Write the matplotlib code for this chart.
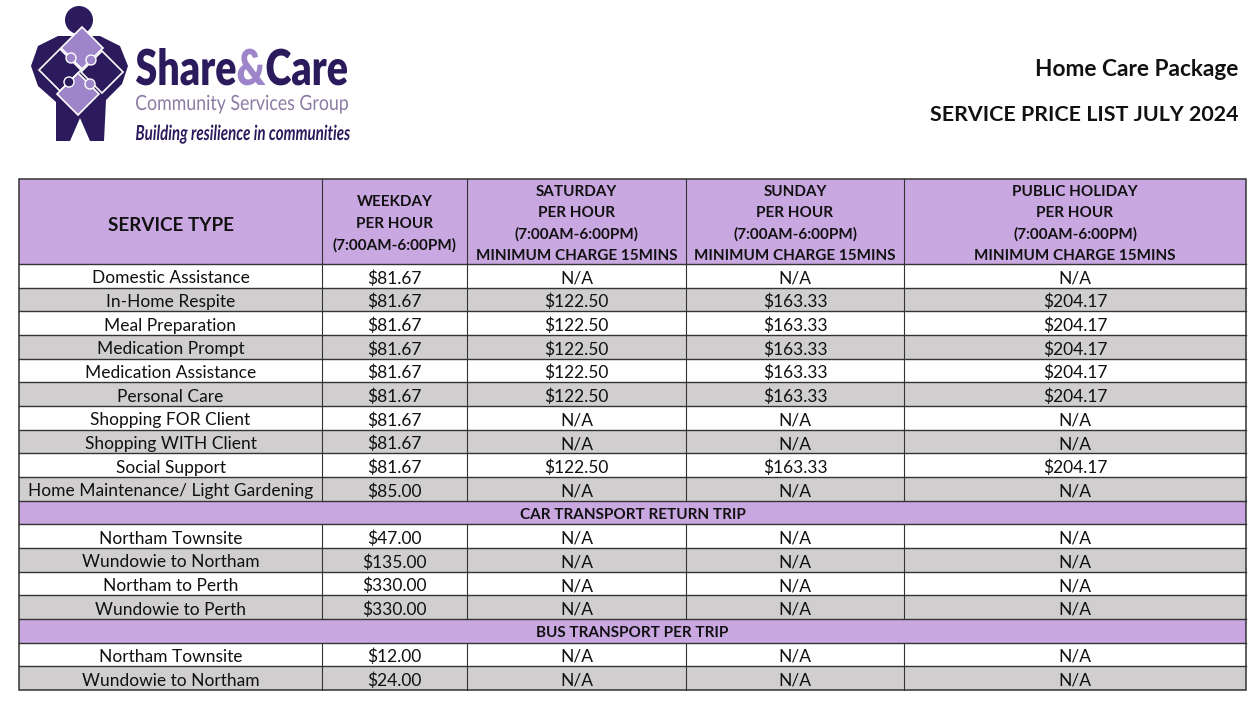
import matplotlib.pyplot as plt
from matplotlib.patches import Rectangle, Circle, Polygon, PathPatch
from matplotlib.textpath import TextPath
from matplotlib.font_manager import FontProperties
from matplotlib.transforms import Affine2D

plt.rcParams['font.family'] = ['Lato', 'DejaVu Sans']

# ---- table content ----
col_headers = ["SERVICE TYPE",
               "WEEKDAY\nPER HOUR\n(7:00AM-6:00PM)",
               "SATURDAY\nPER HOUR\n(7:00AM-6:00PM)\nMINIMUM CHARGE 15MINS",
               "SUNDAY\nPER HOUR\n(7:00AM-6:00PM)\nMINIMUM CHARGE 15MINS",
               "PUBLIC HOLIDAY\nPER HOUR\n(7:00AM-6:00PM)\nMINIMUM CHARGE 15MINS"]

service_rows = ["Domestic Assistance", "In-Home Respite", "Meal Preparation",
                "Medication Prompt", "Medication Assistance", "Personal Care",
                "Shopping FOR Client", "Shopping WITH Client", "Social Support",
                "Home Maintenance/ Light Gardening"]
service_weekday = [81.67, 81.67, 81.67, 81.67, 81.67, 81.67, 81.67, 81.67, 81.67, 85.00]
service_saturday = [None, 122.50, 122.50, 122.50, 122.50, 122.50, None, None, 122.50, None]
service_sunday = [None, 163.33, 163.33, 163.33, 163.33, 163.33, None, None, 163.33, None]
service_holiday = [None, 204.17, 204.17, 204.17, 204.17, 204.17, None, None, 204.17, None]

car_title = "CAR TRANSPORT RETURN TRIP"
car_rows = ["Northam Townsite", "Wundowie to Northam", "Northam to Perth", "Wundowie to Perth"]
car_weekday = [47.00, 135.00, 330.00, 330.00]

bus_title = "BUS TRANSPORT PER TRIP"
bus_rows = ["Northam Townsite", "Wundowie to Northam"]
bus_weekday = [12.00, 24.00]

# ---- styling ----
purple = '#C9A7E1'
grey = '#D0CECE'
line_col = '#333333'
navy = '#2B1A5C'
lilac = '#9E84C8'
txt_col = '#111111'
dy = 2.5  # nudge text down a little so it sits like the original


def fmt(v):
    return "N/A" if v is None else "${:,.2f}".format(v)


fig = plt.figure(figsize=(12.57, 7.04), dpi=100)
ax = fig.add_axes([0, 0, 1, 1])
ax.set_xlim(0, 1257)
ax.set_ylim(704, 0)
ax.axis('off')

col_edges = [19, 322, 467, 686, 904, 1246]
x_left, x_right = col_edges[0], col_edges[-1]
head_top, head_bot = 179, 264
row_h = (690 - head_bot) / 18

# header
ax.add_patch(Rectangle((x_left, head_top), x_right - x_left, head_bot - head_top,
                       fc=purple, ec='none'))
ax.text((col_edges[0] + col_edges[1]) / 2, 223 + dy, col_headers[0], ha='center', va='center',
        fontsize=13.6, fontweight='bold', color=txt_col)
for i, h in enumerate(col_headers[1:], start=1):
    lines = h.split("\n")
    cx = (col_edges[i] + col_edges[i + 1]) / 2
    y0 = (head_top + head_bot) / 2 - (len(lines) - 1) * 21.5 / 2
    for k, ln in enumerate(lines):
        ax.text(cx, y0 + k * 21.5 + dy, ln, ha='center', va='center', fontsize=11,
                fontweight='bold', color=txt_col)

# body rows: (kind, label, values)
body = []
for n, w, sa, su, ho in zip(service_rows, service_weekday, service_saturday,
                            service_sunday, service_holiday):
    body.append(('row', n, [w, sa, su, ho]))
body.append(('title', car_title, None))
for n, w in zip(car_rows, car_weekday):
    body.append(('row', n, [w, None, None, None]))
body.append(('title', bus_title, None))
for n, w in zip(bus_rows, bus_weekday):
    body.append(('row', n, [w, None, None, None]))

y = head_bot
stripe = 0
for kind, label, vals in body:
    yc = y + row_h / 2 + dy
    if kind == 'title':
        ax.add_patch(Rectangle((x_left, y), x_right - x_left, row_h, fc=purple, ec='none'))
        ax.text((x_left + x_right) / 2, yc, label, ha='center', va='center',
                fontsize=11, fontweight='bold', color=txt_col)
        stripe = 0
    else:
        fc = 'white' if stripe % 2 == 0 else grey
        ax.add_patch(Rectangle((x_left, y), x_right - x_left, row_h, fc=fc, ec='none'))
        ax.text((col_edges[0] + col_edges[1]) / 2, yc, label, ha='center', va='center',
                fontsize=12.5, color=txt_col, parse_math=False)
        for i, v in enumerate(vals, start=1):
            ax.text((col_edges[i] + col_edges[i + 1]) / 2, yc, fmt(v), ha='center',
                    va='center', fontsize=12.5, color=txt_col, parse_math=False)
        for xe in col_edges[1:-1]:
            ax.plot([xe, xe], [y, y + row_h], color=line_col, lw=0.8)
        stripe += 1
    ax.plot([x_left, x_right], [y, y], color=line_col, lw=1.0)
    y += row_h

for xe in col_edges[1:-1]:
    ax.plot([xe, xe], [head_top, head_bot], color=line_col, lw=0.8)
ax.add_patch(Rectangle((x_left, head_top), x_right - x_left, y - head_top,
                       fc='none', ec=line_col, lw=1.1))

# ---- titles ----
ax.text(1238, 70, "Home Care Package", ha='right', va='center', fontsize=16.3,
        fontweight='bold', color=txt_col)
ax.text(1238, 115, "SERVICE PRICE LIST JULY 2024", ha='right', va='center', fontsize=15.4,
        fontweight='bold', color=txt_col)


# ---- logo ----
def logo_text(parts, x0, x1, base, cap, weight='bold', style='normal'):
    prop = FontProperties(family='Lato', weight=weight, style=style)
    full_s = ''.join(p for p, _ in parts)
    full = TextPath((0, 0), full_s, size=50, prop=prop).get_extents()
    ref = TextPath((0, 0), 'H', size=50, prop=prop).get_extents()
    sx = (x1 - x0) / full.width
    sy = cap / ref.height
    tr = Affine2D().translate(-full.x0, 0).scale(sx, -sy).translate(x0, base)
    prefix = ''
    for s, c in parts:
        prefix += s
        pre = TextPath((0, 0), prefix, size=50, prop=prop).get_extents()
        tp = TextPath((0, 0), s, size=50, prop=prop)
        shift = pre.x1 - tp.get_extents().x1
        path = Affine2D().translate(shift, 0).transform_path(tp)
        ax.add_patch(PathPatch(tr.transform_path(path), fc=c, ec='none'))


logo_text([("Share", navy), ("&", lilac), ("Care", navy)], 136, 347, 85, 36, weight='heavy')
logo_text([("Community Services Group", '#8C7CA4')], 136, 348, 110, 15, weight='normal')
logo_text([("Building resilience in communities", navy)], 136, 350, 140, 15,
          weight='bold', style='italic')

# figure: head, body, puzzle
ax.add_patch(Circle((79, 20), 14, fc=navy, ec='none'))
ax.add_patch(Polygon([(58, 36), (100, 36), (120, 46), (128, 66), (122, 84), (106, 100),
                      (104, 141), (90, 141), (80, 118), (70, 141), (56, 141), (56, 102),
                      (38, 86), (31, 66), (38, 46)], closed=True, fc=navy, ec='none'))
# four puzzle pieces as rotated squares
pieces = [((82, 48), lilac), ((60, 70), navy), ((102, 72), navy), ((78, 94), lilac)]
for (cx, cy), c in pieces:
    r = 21
    ax.add_patch(Polygon([(cx, cy - r), (cx + r, cy), (cx, cy + r), (cx - r, cy)],
                         closed=True, fc=c, ec='white', lw=1.2))
for (cx, cy), c in [((71, 58), lilac), ((91, 60), lilac), ((69, 82), navy), ((90, 84), lilac)]:
    ax.add_patch(Circle((cx, cy), 5, fc=c, ec='white', lw=1.0))

fig.savefig("out.png", dpi=100)
